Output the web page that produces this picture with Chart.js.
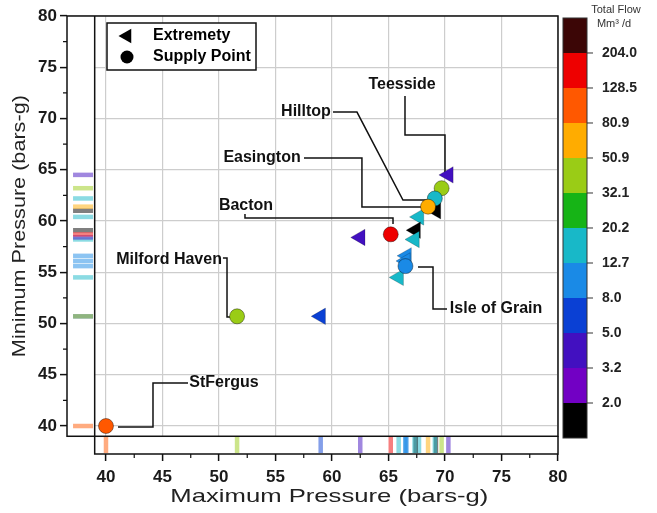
<!DOCTYPE html>
<html>
<head>
<meta charset="utf-8">
<script src="https://cdn.jsdelivr.net/npm/chart.js@4/dist/chart.umd.min.js"></script>
<style>
    html, body { margin: 0; padding: 0; background: #fff; }
</style>
</head>
<body>
<canvas id="grafica" width="657" height="513"></canvas>
<script>
/* supply points (circles): max pressure, min pressure, total flow */
const supply_names = ['Teesside', 'Hilltop', 'Easington', 'Bacton', 'Isle of Grain', 'Milford Haven', 'StFergus'];
const supply_max   = [69.7, 69.1, 68.5, 65.2, 66.5, 51.6, 40.0];
const supply_min   = [63.2, 62.2, 61.4, 58.7, 55.6, 50.7, 40.0];
const supply_flow  = [40, 16, 65, 160, 10, 40, 100];

/* extremeties (triangles) */
const extreme_max  = [70.3, 69.2, 67.7, 67.4, 67.3, 62.5, 66.6, 66.5, 65.9, 59.0];
const extreme_min  = [64.5, 61.0, 60.4, 59.1, 58.2, 58.4, 56.6, 56.1, 54.5, 50.7];
const extreme_flow = [4, 1.5, 16, 1.5, 16, 4, 10, 10, 16, 6.5];

/* colour bar: band limits and colours, bottom to top */
const flow_ticks  = [2.0, 3.2, 5.0, 8.0, 12.7, 20.2, 32.1, 50.9, 80.9, 128.5, 204.0];
const flow_colors = ['#000000', '#7200c4', '#4210c0', '#0a40d4', '#1a8ae6', '#18b8c8',
                     '#16b416', '#9acc16', '#ffac00', '#ff5800', '#ee0000', '#3c0606'];

/* axis ticks (both axes) */
const axis_ticks  = [40, 45, 50, 55, 60, 65, 70, 75, 80];
const minor_ticks = [42.5, 47.5, 52.5, 57.5, 62.5, 67.5, 72.5, 77.5];

/* callout labels: text anchor and leader line, in data units */
const etiquetas = [
    { texto: 'Teesside',      x: 66.2,  y: 73.27, linea: [[66.46, 72.2], [66.46, 68.39], [70.0, 68.39], [70.0, 64.78]] },
    { texto: 'Hilltop',       x: 57.7,  y: 70.63, linea: [[60.09, 70.63], [62.21, 70.63], [66.28, 62.05], [68.41, 62.05]] },
    { texto: 'Easington',     x: 53.81, y: 66.15, linea: [[57.52, 66.15], [62.65, 66.15], [62.65, 61.37], [67.97, 61.37]] },
    { texto: 'Bacton',        x: 52.39, y: 61.46, linea: [[52.3, 60.68], [52.3, 60.29], [65.4, 60.29], [65.4, 59.71]] },
    { texto: 'Milford Haven', x: 45.58, y: 56.2,  linea: [[50.35, 56.39], [50.71, 56.39], [50.71, 50.63], [51.15, 50.63]] },
    { texto: 'Isle of Grain', x: 74.52, y: 51.41, linea: [[67.61, 55.51], [68.94, 55.51], [68.94, 51.41], [70.18, 51.41]] },
    { texto: 'StFergus',      x: 50.44, y: 44.2,  linea: [[41.06, 39.9], [44.16, 39.9], [44.16, 44.2], [47.26, 44.2]] }
];

const FUENTE = '"Liberation Sans", Arial, sans-serif';
const RUG_LIMITE = 39;      // edge of the rug strips
const RUG_X_POS  = 37.97;   // where the left rug sits (x units)
const RUG_Y_POS  = 38.15;   // where the bottom rug sits (y units)

/* picks the colour of the band a flow falls in */
function color_flujo(f) {
    return flow_colors[flow_ticks.filter(t => t <= f).length];
}

function con_alfa(hex, a) {
    const n = parseInt(hex.slice(1), 16);
    return `rgba(${n >> 16},${(n >> 8) & 255},${n & 255},${a})`;
}

/* draws text squeezed/stretched to a given length */
function texto_estirado(ctx, texto, cx, cy, largo, angulo) {
    ctx.save();
    ctx.translate(cx, cy);
    ctx.rotate(angulo);
    ctx.scale(largo / ctx.measureText(texto).width, 1);
    ctx.textAlign = 'center';
    ctx.textBaseline = 'middle';
    ctx.fillText(texto, 0, 0);
    ctx.restore();
}

const todos_max  = extreme_max.concat(supply_max);
const todos_min  = extreme_min.concat(supply_min);
const todos_flow = extreme_flow.concat(supply_flow);

/* frames, rugs background, callouts, colour bar, legend and titles */
const dibujo = {
    id: 'dibujo',
    beforeDatasetsDraw(chart) {
        const { ctx, chartArea: a, scales: { x, y } } = chart;
        const xr = x.getPixelForValue(RUG_LIMITE), yr = y.getPixelForValue(RUG_LIMITE);
        ctx.save();
        ctx.fillStyle = '#fff';
        ctx.fillRect(a.left, a.top, xr - a.left, a.bottom - a.top);
        ctx.fillRect(a.left, yr, a.right - a.left, a.bottom - yr);

        ctx.strokeStyle = '#111';
        ctx.lineWidth = 1.5;
        ctx.strokeRect(a.left, a.top, a.right - a.left, yr - a.top);
        ctx.beginPath();
        ctx.moveTo(xr, a.top);
        ctx.lineTo(xr, a.bottom);
        ctx.lineTo(a.right, a.bottom);
        ctx.lineTo(a.right, yr);
        ctx.stroke();

        /* minor ticks */
        ctx.lineWidth = 1.2;
        ctx.beginPath();
        minor_ticks.forEach(v => {
            const px = x.getPixelForValue(v), py = y.getPixelForValue(v);
            ctx.moveTo(px, a.bottom); ctx.lineTo(px, a.bottom + 4);
            ctx.moveTo(a.left - 4, py); ctx.lineTo(a.left, py);
        });
        ctx.stroke();

        /* callouts */
        ctx.lineWidth = 1.5;
        ctx.fillStyle = '#111';
        ctx.font = `bold 16px ${FUENTE}`;
        ctx.textAlign = 'center';
        ctx.textBaseline = 'middle';
        etiquetas.forEach(e => {
            ctx.beginPath();
            e.linea.forEach(([vx, vy], i) => {
                const px = x.getPixelForValue(vx), py = y.getPixelForValue(vy);
                if (i) ctx.lineTo(px, py); else ctx.moveTo(px, py);
            });
            ctx.stroke();
            ctx.fillText(e.texto, x.getPixelForValue(e.x), y.getPixelForValue(e.y));
        });
        ctx.restore();
    },
    afterDraw(chart) {
        const { ctx, chartArea: a, scales: { x, y, flujo } } = chart;
        ctx.save();

        /* colour bar */
        const x0 = a.right + 5, x1 = a.right + 29;
        flow_colors.forEach((c, i) => {
            const ytop = flujo.getPixelForValue(i + 1), ybot = flujo.getPixelForValue(i);
            ctx.fillStyle = c;
            ctx.fillRect(x0, ytop, x1 - x0, ybot - ytop);
        });
        ctx.strokeStyle = '#333';
        ctx.lineWidth = 1;
        const ctop = flujo.getPixelForValue(flow_colors.length), cbot = flujo.getPixelForValue(0);
        ctx.strokeRect(x0, ctop, x1 - x0, cbot - ctop);
        ctx.beginPath();
        flow_ticks.forEach((_, i) => {
            const py = flujo.getPixelForValue(i + 1);
            ctx.moveTo(x1, py); ctx.lineTo(x1 + 6, py);
        });
        ctx.stroke();
        ctx.fillStyle = '#333';
        ctx.font = `11px ${FUENTE}`;
        ctx.textAlign = 'center';
        ctx.textBaseline = 'middle';
        ctx.fillText('Total Flow', a.right + 58, 10);
        ctx.fillText('Mm³ /d', a.right + 56, 24);

        /* legend */
        const lx = a.left + 40, ly = a.top + 7;
        ctx.fillStyle = '#fff';
        ctx.fillRect(lx, ly, 149, 47);
        ctx.strokeStyle = '#111';
        ctx.lineWidth = 1.5;
        ctx.strokeRect(lx, ly, 149, 47);
        ctx.fillStyle = '#000';
        Chart.helpers.drawPoint(ctx, { pointStyle: 'triangle', radius: 8.5, rotation: -90, borderWidth: 0 }, lx + 20, ly + 13);
        Chart.helpers.drawPoint(ctx, { pointStyle: 'circle', radius: 6.5, borderWidth: 0 }, lx + 20, ly + 34);
        ctx.font = `bold 16px ${FUENTE}`;
        ctx.textAlign = 'left';
        ctx.fillText('Extremety', lx + 46, ly + 13);
        ctx.fillText('Supply Point', lx + 46, ly + 34);

        /* axis titles */
        ctx.fillStyle = '#222';
        ctx.font = `19px ${FUENTE}`;
        const xr = x.getPixelForValue(RUG_LIMITE), yr = y.getPixelForValue(RUG_LIMITE);
        texto_estirado(ctx, 'Maximum Pressure (bars-g)', (xr + a.right) / 2 + 3, 497, 318, 0);
        texto_estirado(ctx, 'Minimum Pressure (bars-g)', 20, (a.top + yr) / 2, 262, -Math.PI / 2);
        ctx.restore();
    }
};

const ticks_eje = {
    color: '#1a1a1a',
    font: { family: FUENTE, size: 17, weight: 'bold' },
    autoSkip: false,
    maxRotation: 0,
    callback: v => String(v)
};
const grid_eje = { color: '#cdcdcd', lineWidth: 1.2, tickColor: '#111', tickLength: 7, tickWidth: 1.5 };

new Chart(document.getElementById('grafica'), {
    type: 'scatter',
    data: {
        datasets: [
            {
                label: 'Supply Point',
                data: supply_max.map((v, i) => ({ x: v, y: supply_min[i] })),
                pointStyle: 'circle',
                pointRadius: 7.5,
                pointBackgroundColor: supply_flow.map(color_flujo),
                pointBorderColor: 'rgba(0,0,0,0.4)',
                pointBorderWidth: 1,
                order: 0
            },
            {
                label: 'Extremety',
                data: extreme_max.map((v, i) => ({ x: v, y: extreme_min[i] })),
                pointStyle: 'triangle',
                pointRotation: -90,
                pointRadius: 9.5,
                pointBackgroundColor: extreme_flow.map(color_flujo),
                pointBorderColor: 'rgba(0,0,0,0.25)',
                pointBorderWidth: 0.8,
                order: 1
            },
            {
                label: 'rug_y',
                data: todos_min.map(v => ({ x: RUG_X_POS, y: v })),
                pointStyle: 'line',
                pointRadius: 10,
                pointBorderWidth: 4.5,
                pointBorderColor: todos_flow.map(f => con_alfa(color_flujo(f), 0.5)),
                order: 2
            },
            {
                label: 'rug_x',
                data: todos_max.map(v => ({ x: v, y: RUG_Y_POS })),
                pointStyle: 'line',
                pointRotation: 90,
                pointRadius: 8,
                pointBorderWidth: 4.5,
                pointBorderColor: todos_flow.map(f => con_alfa(color_flujo(f), 0.5)),
                order: 2
            }
        ]
    },
    options: {
        responsive: false,
        animation: false,
        events: [],
        layout: { padding: { top: 16, left: 0, right: 0, bottom: 0 } },
        plugins: { legend: { display: false }, tooltip: { enabled: false } },
        scales: {
            x: {
                type: 'linear', min: 36.55, max: 80,
                afterBuildTicks: s => { s.ticks = axis_ticks.map(v => ({ value: v })); },
                afterFit: s => { s.height = 59; },
                grid: grid_eje,
                border: { display: false },
                ticks: { ...ticks_eje, padding: 6 }
            },
            y: {
                type: 'linear', min: 37.27, max: 80,
                afterBuildTicks: s => { s.ticks = axis_ticks.map(v => ({ value: v })); },
                afterFit: s => { s.width = 67; },
                grid: grid_eje,
                border: { display: false },
                ticks: { ...ticks_eje, padding: 3 }
            },
            flujo: {
                type: 'linear', position: 'right', min: -0.457, max: 12.057,
                afterBuildTicks: s => { s.ticks = flow_ticks.map((_, i) => ({ value: i + 1 })); },
                /* the big label padding would otherwise push the plot down */
                afterFit: s => { s.width = 99; s.paddingTop = 8; s.paddingBottom = 8; },
                grid: { display: false, drawTicks: false },
                border: { display: false },
                ticks: {
                    color: '#222',
                    font: { family: FUENTE, size: 14, weight: 'bold' },
                    padding: 44,
                    autoSkip: false,
                    callback: (v, i) => flow_ticks[i].toFixed(1)
                }
            }
        }
    },
    plugins: [dibujo]
});
</script>
</body>
</html>
